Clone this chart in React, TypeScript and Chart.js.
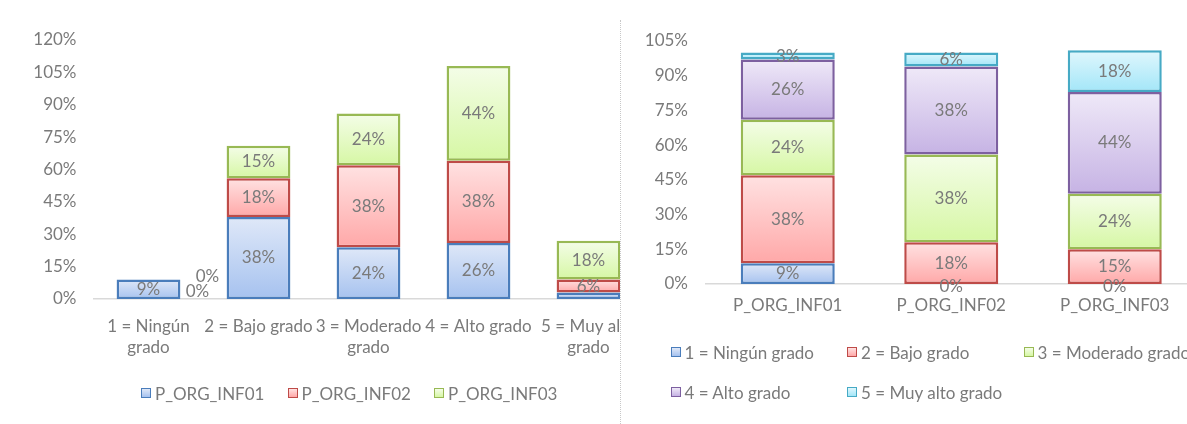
import React, { useEffect, useRef } from 'react';
import { Chart, registerables } from 'chart.js';
Chart.register(...registerables);

// ---------- Data: left chart (categories = grades, series = items)
const leftCategories: (string | string[])[] = [
  ['1 = Ningún', 'grado'],
  '2 = Bajo grado',
  ['3 = Moderado', 'grado'],
  '4 = Alto grado',
  ['5 = Muy alto', 'grado'],
];
const leftSeriesNames = ['P_ORG_INF01', 'P_ORG_INF02', 'P_ORG_INF03'];
const inf01 = [9, 38, 24, 26, 3];
const inf02 = [0, 18, 38, 38, 6];
const inf03 = [0, 15, 24, 44, 18];
const leftTicks = [0, 15, 30, 45, 60, 75, 90, 105, 120];

// ---------- Data: right chart (categories = items, series = grades)
const rightCategories = ['P_ORG_INF01', 'P_ORG_INF02', 'P_ORG_INF03'];
const rightSeriesNames = ['1 = Ningún grado', '2 = Bajo grado', '3 = Moderado grado', '4 = Alto grado', '5 = Muy alto grado'];
const grade1 = [9, 0, 0];
const grade2 = [38, 18, 15];
const grade3 = [24, 38, 24];
const grade4 = [26, 38, 44];
const grade5 = [3, 6, 18];
const rightTicks = [0, 15, 30, 45, 60, 75, 90, 105];

// ---------- Styles
type Pal = { border: string; top: string; bottom: string };
const blue: Pal = { border: '#4a7dbb', top: '#dfe8f8', bottom: '#a6c2ef' };
const red: Pal = { border: '#be4b48', top: '#ffe2e2', bottom: '#ffa8a8' };
const green: Pal = { border: '#98b954', top: '#f4fde8', bottom: '#d6f7a4' };
const purple: Pal = { border: '#7d60a0', top: '#efe9f8', bottom: '#c6b3e4' };
const cyan: Pal = { border: '#46aac5', top: '#e0f7fd', bottom: '#a3e6f8' };
const TEXT = '#7a7a7a';
const FONT_FAMILY = 'Lato';
const FONT_SIZE = 17;

function gradientFill(p: Pal) {
  return (ctx: any) => {
    const chart = ctx.chart;
    if (!chart.chartArea || ctx.type !== 'data') return p.bottom;
    const ys = chart.scales.y;
    const ds = chart.data.datasets;
    let start = 0;
    for (let d = 0; d < ctx.datasetIndex; d++) start += ds[d].data[ctx.dataIndex];
    const end = start + ds[ctx.datasetIndex].data[ctx.dataIndex];
    const yTop = ys.getPixelForValue(end);
    const yBot = ys.getPixelForValue(start);
    if (!(yBot > yTop)) return p.bottom;
    const g = chart.ctx.createLinearGradient(0, yTop, 0, yBot);
    g.addColorStop(0, p.top);
    g.addColorStop(1, p.bottom);
    return g;
  };
}

function makeDataset(label: string, data: number[], p: Pal, barPct: number) {
  return {
    label,
    data,
    backgroundColor: gradientFill(p),
    borderColor: p.border,
    borderWidth: 2.5,
    borderSkipped: false,
    barPercentage: barPct,
    categoryPercentage: 1,
  };
}

function makeValueLabels(cfg: { hidden: number[][]; zero: 'side' | 'center' }) {
  return {
    id: 'valueLabels',
    afterDatasetsDraw(chart: any) {
      const ctx = chart.ctx;
      const y0 = chart.scales.y.getPixelForValue(0);
      ctx.save();
      ctx.font = `${FONT_SIZE}px ${FONT_FAMILY}`;
      ctx.fillStyle = TEXT;
      ctx.textAlign = 'center';
      ctx.textBaseline = 'middle';
      chart.data.datasets.forEach((ds: any, di: number) => {
        const meta = chart.getDatasetMeta(di);
        meta.data.forEach((el: any, i: number) => {
          if (cfg.hidden.some(([a, b]) => a === di && b === i)) return;
          const v = ds.data[i];
          let x = el.x;
          let y = (el.y + el.base) / 2;
          if (v === 0) {
            if (cfg.zero === 'side') {
              x = el.x + el.width / 2 + 17 + (di - 1) * 10;
              y = y0 - 7 - (di - 1) * 15;
            } else {
              y = el.base + 3;
            }
          }
          ctx.fillText(`${v}%`, x, y);
        });
      });
      ctx.restore();
    },
  };
}

function baseOptions(o: {
  padRight: number; padTop: number; padBottom: number; yWidth: number; xHeight: number;
  xPad: number; yPad: number; max: number; ticks: number[];
}) {
  const font = { family: FONT_FAMILY, size: FONT_SIZE, lineHeight: 1.25 };
  return {
    responsive: false,
    animation: false as const,
    devicePixelRatio: 1,
    layout: { padding: { left: 0, right: o.padRight, top: o.padTop, bottom: o.padBottom } },
    plugins: { legend: { display: false }, tooltip: { enabled: false } },
    scales: {
      x: {
        stacked: true,
        grid: { display: false, drawTicks: false },
        border: { display: true, color: '#d9d9d9', width: 1.5 },
        ticks: { color: TEXT, font, padding: o.xPad, autoSkip: false, maxRotation: 0, minRotation: 0 },
        afterFit: (s: any) => { s.height = o.xHeight; },
      },
      y: {
        stacked: true,
        min: 0,
        max: o.max,
        grid: { display: false, drawTicks: false },
        border: { display: false },
        ticks: { color: TEXT, font, padding: o.yPad, callback: (v: any) => `${v}%` },
        afterBuildTicks: (s: any) => { s.ticks = o.ticks.map((v) => ({ value: v })); },
        afterFit: (s: any) => { s.width = o.yWidth; },
      },
    },
  };
}

function LegendBox({ p }: { p: Pal }) {
  return (
    <span
      style={{
        display: 'inline-block',
        boxSizing: 'border-box',
        width: 10,
        height: 10,
        border: `1.5px solid ${p.border}`,
        background: `linear-gradient(${p.top}, ${p.bottom})`,
        marginRight: 4,
        verticalAlign: 'middle',
        position: 'relative',
        top: -1,
      }}
    />
  );
}

function HtmlLegend({ names, pals, left, top, itemWidth, rowHeight, cols }: {
  names: string[]; pals: Pal[]; left: number; top: number; itemWidth: number; rowHeight: number; cols: number;
}) {
  return (
    <div
      style={{
        position: 'absolute',
        left,
        top,
        display: 'grid',
        gridTemplateColumns: `repeat(${cols}, ${itemWidth}px)`,
        gridAutoRows: `${rowHeight}px`,
        fontFamily: FONT_FAMILY,
        fontSize: FONT_SIZE,
        color: TEXT,
        whiteSpace: 'nowrap',
      }}
    >
      {names.map((n, i) => (
        <div key={n} style={{ height: 20, lineHeight: '20px' }}>
          <LegendBox p={pals[i]} />
          <span style={{ verticalAlign: 'middle' }}>{n}</span>
        </div>
      ))}
    </div>
  );
}

export default function App() {
  const leftRef = useRef<HTMLCanvasElement | null>(null);
  const rightRef = useRef<HTMLCanvasElement | null>(null);

  useEffect(() => {
    const leftPals = [blue, red, green];
    const leftSeries = [inf01, inf02, inf03];
    const left = new Chart(leftRef.current!, {
      type: 'bar',
      data: {
        labels: leftCategories as any,
        datasets: leftSeries.map((d, i) => makeDataset(leftSeriesNames[i], d, leftPals[i], 0.58)) as any,
      },
      options: baseOptions({
        padRight: 56.5, padTop: 40, padBottom: 65, yWidth: 93.5, xHeight: 60,
        xPad: 16.5, yPad: 17, max: 120, ticks: leftTicks,
      }) as any,
      plugins: [makeValueLabels({ hidden: [[0, 4]], zero: 'side' })],
    });

    const rightPals = [blue, red, green, purple, cyan];
    const rightSeries = [grade1, grade2, grade3, grade4, grade5];
    const right = new Chart(rightRef.current!, {
      type: 'bar',
      data: {
        labels: rightCategories,
        datasets: rightSeries.map((d, i) => makeDataset(rightSeriesNames[i], d, rightPals[i], 0.575)) as any,
      },
      options: baseOptions({
        padRight: 24.5, padTop: 41, padBottom: 100, yWidth: 85, xHeight: 40,
        xPad: 10.5, yPad: 18, max: 105, ticks: rightTicks,
      }) as any,
      plugins: [makeValueLabels({ hidden: [], zero: 'center' })],
    });

    return () => {
      left.destroy();
      right.destroy();
    };
  }, []);

  return (
    <div
      style={{
        position: 'absolute',
        left: 0,
        top: 0,
        width: 1187,
        height: 424,
        overflow: 'hidden',
        background: '#ffffff',
      }}
    >
      <div style={{ position: 'absolute', left: 0, top: 0, width: 620, height: 424, overflow: 'hidden' }}>
        <canvas ref={leftRef} width={700} height={424} style={{ width: 700, height: 424, display: 'block' }} />
      </div>
      <div style={{ position: 'absolute', left: 620, top: 20, height: 404, borderLeft: '1px dotted #c8c8c8' }} />
      <div style={{ position: 'absolute', left: 621, top: 0, width: 566, height: 424, overflow: 'hidden' }}>
        <canvas ref={rightRef} width={600} height={424} style={{ width: 600, height: 424, display: 'block' }} />
      </div>
      <HtmlLegend
        names={leftSeriesNames}
        pals={[blue, red, green]}
        left={141}
        top={382}
        itemWidth={146.5}
        rowHeight={40}
        cols={3}
      />
      <div style={{ position: 'absolute', left: 621, top: 0, width: 566, height: 424, overflow: 'hidden', pointerEvents: 'none' }}>
        <HtmlLegend
          names={rightSeriesNames}
          pals={[blue, red, green, purple, cyan]}
          left={670.5 - 621}
          top={341}
          itemWidth={176.5}
          rowHeight={40}
          cols={3}
        />
      </div>
    </div>
  );
}
